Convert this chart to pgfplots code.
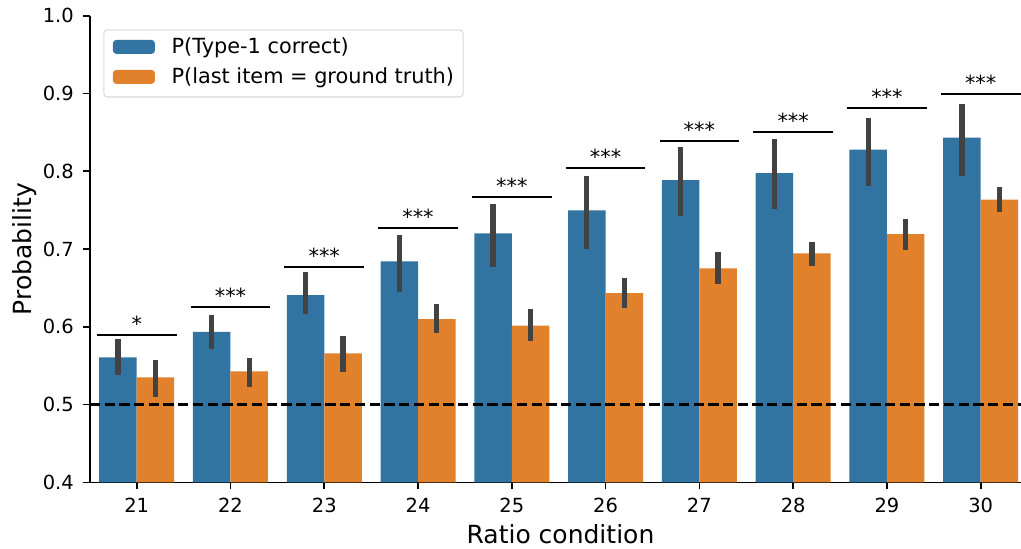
\documentclass[border=0pt]{standalone}
\usepackage{pgfplots}
\pgfplotsset{compat=1.18}
\usepackage{pgfplotstable}
\usepackage{fontspec}
\setmainfont{DejaVu Sans}
\definecolor{cblue}{HTML}{3274A1}
\definecolor{corange}{HTML}{E1812C}
\definecolor{cgray}{HTML}{424242}
\definecolor{cleg}{HTML}{D9D9D9}
\pgfplotstableread{
x b blo bhi o olo ohi s
0 0.5607 0.5384 0.5839 0.5350 0.5093 0.5569 0.5898
1 0.5936 0.5718 0.6155 0.5427 0.5225 0.5598 0.6250
2 0.6408 0.6168 0.6704 0.5659 0.5414 0.5881 0.6768
3 0.6842 0.6443 0.7180 0.6100 0.5920 0.6293 0.7274
4 0.7202 0.6772 0.7575 0.6014 0.5817 0.6225 0.7665
5 0.7497 0.7004 0.7939 0.6434 0.6245 0.6631 0.8041
6 0.7887 0.7428 0.8308 0.6752 0.6550 0.6957 0.8389
7 0.7977 0.7510 0.8418 0.6945 0.6781 0.7090 0.8508
8 0.8277 0.7806 0.8684 0.7193 0.6991 0.7389 0.8809
9 0.8431 0.7942 0.8868 0.7634 0.7476 0.7797 0.8997
}\data
\begin{document}
\begin{tikzpicture}
\begin{axis}[
  name=ax,
  scale only axis,
  width=670.3pt, height=335.95pt,
  xmin=-0.5, xmax=9.43,
  ymin=0.4, ymax=1.0,
  enlargelimits=false,
  axis x line*=bottom, axis y line*=left,
  axis line style={-, line width=1.2pt},
  tick style={line width=1.2pt, black},
  tick align=outside,
  major tick length=5pt,
  xtick={0,1,2,3,4,5,6,7,8,9},
  xticklabels={21,22,23,24,25,26,27,28,29,30},
  ytick={0.4,0.5,0.6,0.7,0.8,0.9,1.0},
  /pgf/number format/assume math mode=true,
  /pgf/number format/fixed,
  /pgf/number format/fixed zerofill,
  /pgf/number format/precision=1,
  tick label style={font=\fontsize{14}{16}\selectfont},
  xticklabel style={anchor=north, inner sep=0pt},
  yticklabel style={anchor=east, inner sep=0pt},
  xticklabel shift=6.3pt,
  yticklabel shift=6.4pt,
  xlabel={Ratio condition},
  ylabel={Probability},
  label style={font=\fontsize{18}{21}\selectfont},
  xlabel style={at={(axis description cs:0.5054,-0.1301)}, anchor=base, inner sep=0pt},
  ylabel style={at={(axis description cs:-0.0621,0.5)}, anchor=base, rotate=0, inner sep=0pt},
  legend style={at={(axis description cs:0.0145,0.9708)}, anchor=north west,
    draw=cleg, line width=0.8pt, rounded corners=2.5pt, fill=white,
    inner sep=6.5pt, column sep=12pt, row sep=7.9pt,
    font=\fontsize{15}{18}\selectfont,
    nodes={inner sep=0pt, text height=10.8pt, text depth=2.9pt, anchor=base west}},
  legend cell align=left,
]
\addplot[ybar, bar width=0.4, bar shift=-0.2, fill=cblue, draw=none,
  legend image code/.code={\fill[cblue] (0pt,0pt) rectangle (30.24pt,10.08pt);}]
  table[x=x, y=b] {\data};
\addlegendentry{P(Type-1 correct)}
\addplot[ybar, bar width=0.4, bar shift=0.2, fill=corange, draw=none,
  legend image code/.code={\fill[corange] (0pt,0pt) rectangle (30.24pt,10.08pt);}]
  table[x=x, y=o] {\data};
\addlegendentry{P(last item = ground truth)}
% error bars
\addplot[forget plot, draw=none, mark=none,
  error bars/.cd, y dir=both, y explicit, error mark=none,
  error bar style={draw=cgray, line width=3.8pt}]
  table[x expr=\thisrow{x}-0.2, y=b,
        y error plus expr=\thisrow{bhi}-\thisrow{b},
        y error minus expr=\thisrow{b}-\thisrow{blo}] {\data};
\addplot[forget plot, draw=none, mark=none,
  error bars/.cd, y dir=both, y explicit, error mark=none,
  error bar style={draw=cgray, line width=3.8pt}]
  table[x expr=\thisrow{x}+0.2, y=o,
        y error plus expr=\thisrow{ohi}-\thisrow{o},
        y error minus expr=\thisrow{o}-\thisrow{olo}] {\data};
% chance line
\addplot[forget plot, black, line width=2pt, dash pattern=on 7.4pt off 3.2pt]
  coordinates {(-0.5,0.5) (9.43,0.5)};
% significance lines
\addplot[forget plot, black, line width=1.45pt] coordinates {(-0.425,0.5898) (0.425,0.5898)};
\addplot[forget plot, black, line width=1.45pt] coordinates {(0.575,0.6250) (1.425,0.6250)};
\addplot[forget plot, black, line width=1.45pt] coordinates {(1.575,0.6768) (2.425,0.6768)};
\addplot[forget plot, black, line width=1.45pt] coordinates {(2.575,0.7274) (3.425,0.7274)};
\addplot[forget plot, black, line width=1.45pt] coordinates {(3.575,0.7665) (4.425,0.7665)};
\addplot[forget plot, black, line width=1.45pt] coordinates {(4.575,0.8041) (5.425,0.8041)};
\addplot[forget plot, black, line width=1.45pt] coordinates {(5.575,0.8389) (6.425,0.8389)};
\addplot[forget plot, black, line width=1.45pt] coordinates {(6.575,0.8508) (7.425,0.8508)};
\addplot[forget plot, black, line width=1.45pt] coordinates {(7.575,0.8809) (8.425,0.8809)};
\addplot[forget plot, black, line width=1.45pt] coordinates {(8.575,0.8997) (9.425,0.8997)};
\begin{scope}[every node/.style={anchor=base, inner sep=0pt, yshift=2.5pt, font=\fontsize{15}{18}\selectfont}]
\node at (axis cs:0,0.5898) {*};
\node at (axis cs:1,0.6250) {***};
\node at (axis cs:2,0.6768) {***};
\node at (axis cs:3,0.7274) {***};
\node at (axis cs:4,0.7665) {***};
\node at (axis cs:5,0.8041) {***};
\node at (axis cs:6,0.8389) {***};
\node at (axis cs:7,0.8508) {***};
\node at (axis cs:8,0.8809) {***};
\node at (axis cs:9,0.8997) {***};
\end{scope}
\end{axis}
\pgfresetboundingbox
\path[use as bounding box] ([xshift=-64.66pt, yshift=-47.3pt]ax.south west) rectangle ([yshift=11.3pt]ax.north east);
\end{tikzpicture}
\end{document}
